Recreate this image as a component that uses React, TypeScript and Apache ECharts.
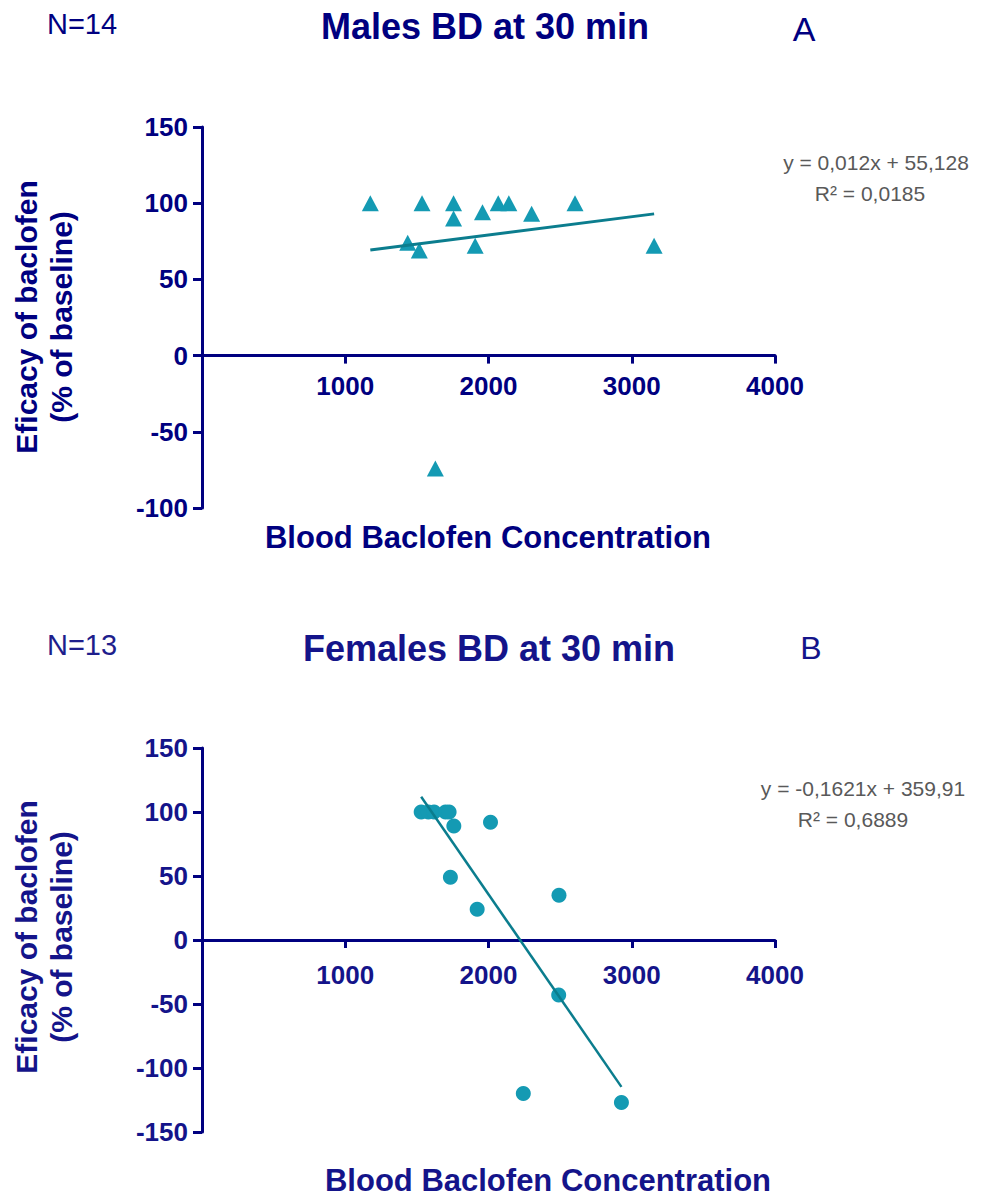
import React, { useEffect, useRef } from "react";
import * as echarts from "echarts";

// ---- data ----
const xTickValues = [0, 1000, 2000, 3000, 4000];
const maleYTicks = [-100, -50, 0, 50, 100, 150];
const femaleYTicks = [-150, -100, -50, 0, 50, 100, 150];

const maleConc = [1175, 1536, 1756, 1756, 1958, 2068, 2142, 2301, 2604, 1436, 1517, 1907, 3156, 1629];
const maleEff = [100, 100, 100, 90, 94, 100, 100, 93, 100, 74, 69, 72, 72, -74];

const femaleConc = [1530, 1580, 1620, 1700, 1725, 1758, 2014, 1734, 1921, 2492, 2490, 2243, 2928];
const femaleEff = [100, 100, 100, 100, 100, 89, 92, 49, 24, 35, -43, -120, -127];

const maleFit = [0.012, 55.128]; // slope, intercept
const femaleFit = [-0.1621, 359.91];

const maleEquation = ["y = 0,012x + 55,128", "R² = 0,0185"];
const femaleEquation = ["y = -0,1621x + 359,91", "R² = 0,6889"];

const maleTitle = "Males BD at 30 min";
const femaleTitle = "Females BD at 30 min";
const maleN = "N=14";
const femaleN = "N=13";
const xName = "Blood Baclofen Concentration";
const yName = ["Eficacy of baclofen", "(% of baseline)"];

const NAVY = "#000080";
const TEAL = "#149ab3";
const LINE = "#0b7d8e";
const FONT = "'Liberation Sans', Arial, sans-serif";

function fitLine(xs: number[], fit: number[]) {
  const lo = Math.min(...xs);
  const hi = Math.max(...xs);
  return [
    [lo, fit[0] * lo + fit[1]],
    [hi, fit[0] * hi + fit[1]],
  ];
}

function zip(a: number[], b: number[]) {
  return a.map((v, i) => [v, b[i]]);
}

export default function App() {
  const ref = useRef<HTMLDivElement>(null);
  useEffect(() => {
    if (!ref.current) return;
    const chart = echarts.init(ref.current, undefined, { renderer: "svg" });

    const GRID_H = [381, 384];
    const yTicks = [maleYTicks, femaleYTicks];

    // distance (px) from the grid's bottom to the zero line
    const zeroOffset = (g: number) => {
      const t = yTicks[g];
      const lo = t[0];
      const hi = t[t.length - 1];
      return ((0 - lo) / (hi - lo)) * GRID_H[g];
    };

    const xAxisBase = (gridIndex: number, margin: number, color: string) => ({
      type: "value",
      gridIndex,
      position: "bottom",
      offset: -zeroOffset(gridIndex),
      min: xTickValues[0],
      max: xTickValues[xTickValues.length - 1],
      interval: 1000,
      splitLine: { show: false },
      axisLine: { show: true, onZero: false, lineStyle: { color: NAVY, width: 3 } },
      axisTick: { show: true, length: 8, lineStyle: { color: NAVY, width: 3 } },
      axisLabel: {
        color,
        fontFamily: FONT,
        fontWeight: "bold",
        fontSize: 26,
        margin,
        formatter: (v: number) => (v === 0 ? "" : String(v)),
      },
    });

    const yAxisBase = (gridIndex: number, ticks: number[], color: string) => ({
      type: "value",
      gridIndex,
      min: ticks[0],
      max: ticks[ticks.length - 1],
      interval: 50,
      splitLine: { show: false },
      axisLine: { show: true, onZero: false, lineStyle: { color: NAVY, width: 3 } },
      axisTick: { show: true, length: 9, lineStyle: { color: NAVY, width: 3 } },
      axisLabel: {
        color,
        fontFamily: FONT,
        fontWeight: "bold",
        fontSize: 26,
        margin: 14,
      },
    });

    const txt = (
      text: string,
      x: number,
      y: number,
      size: number,
      opts: any = {}
    ) => ({
      type: "text",
      x,
      y,
      rotation: opts.rotation || 0,
      style: {
        text,
        fill: opts.color || NAVY,
        fontFamily: FONT,
        fontSize: size,
        fontWeight: opts.bold ? "bold" : "normal",
        textAlign: "center",
        textVerticalAlign: "middle",
      },
    });

    const NAVY2 = "#14148a";

    chart.setOption({
      animation: false,
      grid: [
        { left: 202, top: 127, width: 573, height: GRID_H[0] },
        { left: 202, top: 748, width: 573, height: GRID_H[1] },
      ],
      xAxis: [xAxisBase(0, 17, NAVY), xAxisBase(1, 22, NAVY2)],
      yAxis: [yAxisBase(0, maleYTicks, NAVY), yAxisBase(1, femaleYTicks, NAVY2)],
      series: [
        {
          type: "scatter",
          xAxisIndex: 0,
          yAxisIndex: 0,
          symbol: "triangle",
          symbolSize: [17, 16],
          itemStyle: { color: TEAL, opacity: 1 },
          data: zip(maleConc, maleEff),
          z: 2,
        },
        {
          type: "line",
          xAxisIndex: 0,
          yAxisIndex: 0,
          symbol: "none",
          lineStyle: { color: LINE, width: 3 },
          data: fitLine(maleConc, maleFit),
          z: 3,
        },
        {
          type: "scatter",
          xAxisIndex: 1,
          yAxisIndex: 1,
          symbol: "circle",
          symbolSize: 15,
          itemStyle: { color: TEAL, opacity: 1 },
          data: zip(femaleConc, femaleEff),
          z: 2,
        },
        {
          type: "line",
          xAxisIndex: 1,
          yAxisIndex: 1,
          symbol: "none",
          lineStyle: { color: LINE, width: 2.5 },
          data: fitLine(femaleConc, femaleFit),
          z: 3,
        },
      ],
      graphic: [
        // top panel
        txt(maleN, 82, 24, 29),
        txt(maleTitle, 485, 26, 36, { bold: true }),
        txt("A", 804, 29, 34),
        txt(xName, 488, 537, 31, { bold: true }),
        txt(yName[0], 26, 317, 30, { bold: true, rotation: Math.PI / 2 }),
        txt(yName[1], 61, 317, 30, { bold: true, rotation: Math.PI / 2 }),
        txt(maleEquation[0], 876, 162, 21, { color: "#595959" }),
        txt(maleEquation[1], 870, 193, 21, { color: "#595959" }),
        // bottom panel
        txt(femaleN, 82, 645, 29, { color: "#1e1e8c" }),
        txt(femaleTitle, 489, 648, 36, { bold: true, color: NAVY2 }),
        txt("B", 811, 648, 32, { color: NAVY2 }),
        txt(xName, 548, 1180, 31, { bold: true, color: NAVY2 }),
        txt(yName[0], 26, 937, 30, { bold: true, rotation: Math.PI / 2, color: NAVY2 }),
        txt(yName[1], 61, 937, 30, { bold: true, rotation: Math.PI / 2, color: NAVY2 }),
        txt(femaleEquation[0], 863, 788, 21, { color: "#595959" }),
        txt(femaleEquation[1], 853, 819, 21, { color: "#595959" }),
      ],
    });

    return () => chart.dispose();
  }, []);

  return (
    <div
      ref={ref}
      style={{ position: "absolute", left: 0, top: 0, width: 984, height: 1198, background: "#fff" }}
    />
  );
}
